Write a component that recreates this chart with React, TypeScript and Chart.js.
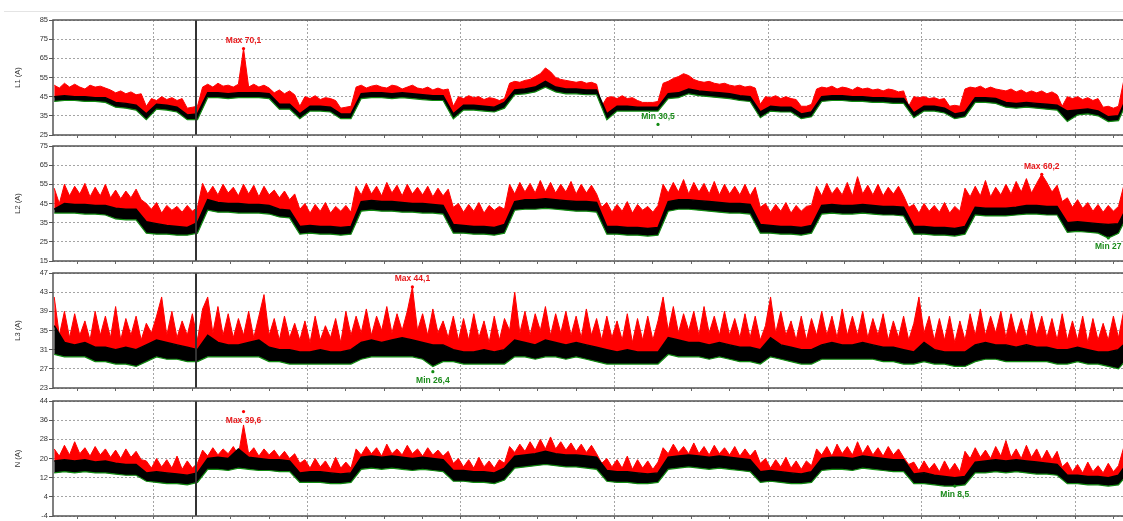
import React, { useEffect, useRef } from "react";
import { Chart, registerables } from "chart.js";

Chart.register(...registerables);

// ---------- time axis (hours) ----------
const SAMPLE_START_H = 8.4;
const MAX_STEP_H = 0.8;
const AVG_STEP_H = 1.6;
const X_MIN_H = 8.21;
const X_MAX_H = 177.38;
const CURSOR_H = 30.57;
const X_TICK_HOURS = [12, 18, 24, 30, 36, 42, 48, 54, 60, 66, 72, 78, 84, 90, 96, 102, 108, 114, 120, 126, 132, 138, 144, 150, 156, 162, 168, 174];
const DAY_LABELS = ["05.03", "06.03", "07.03", "08.03", "09.03", "10.03", "11.03"];

// ---------- L1 ----------
const L1_MAX = [
  51, 49.5, 52, 50, 51.5, 50, 49, 51, 50, 50.5,
  49.5, 48.5, 47, 48, 46.5, 47.5, 46, 46.5, 40, 44,
  43, 45, 43.5, 44.5, 43, 44, 39, 39.5, 40, 50,
  51.5, 50, 52, 50.5, 51, 50, 51.5, 70.1, 50, 51.5,
  50, 51, 49.5, 47, 48.5, 46.5, 48, 46, 40, 45,
  44, 45.5, 43.5, 44.5, 44, 43, 39, 39.5, 40, 50,
  51, 49.5, 50.5, 51, 50, 49.5, 51, 50.5, 49, 50,
  51, 49.5, 49, 50, 48.5, 49.5, 48.5, 49, 40, 45,
  44, 45.5, 44.5, 45, 43.5, 44.5, 44, 43, 44, 52,
  53, 52.5, 53.5, 54, 55.5, 57, 60, 58, 55, 54,
  53.5, 53, 52.5, 53, 52, 52.5, 51.5, 40, 44.5, 45,
  44, 45.5, 44, 44.5, 43, 42, 42, 42, 42.5, 52,
  53, 54.5, 55.5, 57, 56, 54, 53, 52.5, 53, 52,
  51.5, 52, 51, 50.5, 51, 50, 50.5, 49.5, 41, 45,
  44.5, 45.5, 44, 45, 44, 43.5, 40, 40, 41, 49,
  50, 49.5, 50.5, 49, 50, 49.5, 48.5, 50, 49, 49.5,
  48.5, 49, 48, 49, 48.5, 47.5, 48, 40, 45, 44.5,
  45, 44, 44.5, 43.5, 44, 40, 40.5, 40, 49, 50,
  49.5, 50.5, 49, 50, 49, 48.5, 48, 49, 47.5, 48.5,
  47, 48, 47, 48, 46.5, 47.5, 46, 40, 45, 44,
  45, 43.5, 44.5, 43, 44, 39.5, 40, 39, 40, 53,
];
const L1_AVG = [
  45, 45.5, 45, 45, 44.5, 44.5, 42, 41.5, 40.5, 36,
  41, 40.5, 39.5, 35.5, 36, 47, 47, 46.5, 47, 47,
  47, 46.5, 41, 41, 36, 40, 40, 39.5, 36, 36,
  46.5, 47, 47, 46.5, 47, 46.5, 46, 45.5, 45.5, 36,
  40.5, 40.5, 40, 39.5, 42, 48.5, 49, 50, 53, 50,
  49, 49, 48.5, 48.5, 36, 40, 40, 39.5, 39.5, 39.5,
  46.5, 47, 49, 48, 47.5, 47, 46.5, 45.5, 45, 37,
  40, 39.5, 39.5, 36, 37, 45, 45.5, 45.5, 45, 45,
  44.5, 44.5, 44, 44, 36.5, 40, 40, 39, 36, 37,
  44.5, 44.5, 44, 42, 41.5, 42, 41.5, 41, 40.5, 37.5,
  38, 38.5, 37.5, 34.5, 35, 47,
];
const L1_MIN = [
  42.5, 43, 43, 42.5, 42.5, 42, 39.5, 39, 38, 33,
  38.5, 38, 37, 33, 33, 44.5, 44.5, 44, 44.5, 44.5,
  44.5, 44, 38.5, 38.5, 33.5, 37.5, 37.5, 37, 33.5, 33.5,
  44, 44.5, 44.5, 44, 44.5, 44, 43.5, 43, 43, 33.5,
  38, 38, 37.5, 37, 39, 46, 46.5, 47.5, 50, 47.5,
  46.5, 46.5, 46, 46, 33, 37.5, 37.5, 37.5, 37.5, 37.5,
  44, 44.5, 46.5, 45.5, 45, 44.5, 44, 43, 42.5, 34,
  37.5, 37, 37, 33.5, 34.5, 42.5, 43, 43, 42.5, 42.5,
  42, 42, 41.5, 41.5, 34, 37.5, 37.5, 36.5, 33.5, 34.5,
  42, 42, 41.5, 39.5, 39, 39.5, 39, 38.5, 38, 32,
  35.5, 36, 35, 32, 32.5, 44.5,
];

// ---------- L2 ----------
const L2_MAX = [
  53, 45, 55, 49, 54, 50, 55.5, 48.5, 53.5, 49,
  55, 48, 52, 47.5, 51.5, 48, 52.5, 47, 45, 42,
  45.5, 40, 44, 41.5, 43.5, 40.5, 44, 41, 43, 55.5,
  50, 54, 49.5, 55, 50.5, 53.5, 49, 55, 50, 54.5,
  48.5, 54, 49.5, 52, 48, 51.5, 47, 50, 42, 45,
  40, 44.5, 41, 45.5, 40, 43.5, 41, 44, 40.5, 54,
  49.5, 55.5, 50, 54, 49, 56, 50.5, 54.5, 49, 55,
  50, 53.5, 49.5, 54, 48.5, 53, 49, 52.5, 43, 45,
  40.5, 44.5, 41, 45.5, 40, 44, 41.5, 43.5, 42, 55,
  50, 56, 51, 55.5, 50.5, 57, 51, 56, 50.5, 55,
  51, 56.5, 50, 55, 50.5, 54.5, 50, 43, 45.5, 40.5,
  44.5, 41, 46, 40, 44.5, 41.5, 43.5, 40.5, 44, 55,
  50.5, 56, 51, 57.5, 50, 56, 51, 55.5, 50, 56.5,
  49.5, 55, 50, 54, 49.5, 55, 49, 53.5, 43, 45,
  40.5, 44.5, 41, 45.5, 40, 44, 41, 43.5, 44, 54,
  49, 55.5, 50, 53.5, 49.5, 56, 49, 59, 50, 54.5,
  49.5, 55, 49, 53.5, 50, 54, 49, 43, 44.5, 40,
  45, 41, 44, 40.5, 45.5, 40, 43.5, 41, 53, 48.5,
  54, 49, 57, 48.5, 53.5, 49.5, 55, 50, 56.5, 51,
  58, 50.5, 55.5, 60.2, 56, 51, 54.5, 46, 48, 43,
  47, 42.5, 45.5, 41, 44.5, 40.5, 44, 41, 43.5, 54,
];
const L2_AVG = [
  42, 45, 44.5, 44.5, 44, 44, 42.5, 42, 42, 35.5,
  34.5, 33.5, 33, 32.5, 35, 47, 45.5, 45, 45, 44.5,
  44.5, 44, 42, 41.5, 33, 33.5, 33, 33, 32.5, 33,
  46, 46.5, 46, 46, 45.5, 45, 45, 44.5, 44, 34,
  33.5, 33, 33, 32.5, 34, 46, 47, 47, 47.5, 47,
  46.5, 46, 46, 45.5, 33, 33, 32.5, 32.5, 32, 32.5,
  46, 47, 47, 46.5, 46, 45.5, 45, 45, 44.5, 34,
  33.5, 33, 33, 32.5, 33.5, 44, 44.5, 44, 44, 44.5,
  44, 43.5, 43.5, 43, 33, 33, 32.5, 32.5, 32, 33,
  43, 42.5, 42.5, 42.5, 43, 44, 44, 43.5, 43.5, 35,
  35.5, 35, 34.5, 34, 34.5, 45,
];
const L2_MIN = [
  40, 40, 40, 39.5, 39.5, 39, 37, 36.5, 36.5, 29.5,
  29, 29, 28.5, 28.5, 29.5, 41.5, 40.5, 40.5, 40, 40,
  40, 39.5, 38, 37.5, 29, 29.5, 29, 29, 28.5, 29,
  41, 41.5, 41, 41, 40.5, 40.5, 40, 40, 39.5, 29.5,
  29.5, 29, 29, 28.5, 29.5, 41.5, 42, 42, 42.5, 42,
  41.5, 41, 41, 40.5, 29, 29, 28.5, 28.5, 28, 28.5,
  41, 42, 42, 41.5, 41, 40.5, 40, 40, 39.5, 29.5,
  29.5, 29, 29, 28.5, 29.5, 39.5, 40, 39.5, 39.5, 40,
  39.5, 39, 39, 38.5, 29, 29, 28.5, 28.5, 28, 29,
  39, 38.5, 38.5, 38.5, 39, 39.5, 39.5, 39, 39, 30,
  30.5, 30, 29.5, 27, 29.5, 40,
];

// ---------- L3 ----------
const L3_MAX = [
  42, 34, 39, 33.5, 38.5, 34, 37, 33, 39, 34,
  38, 33.5, 40, 33, 37.5, 34, 38, 33, 36.5, 34.5,
  38, 42, 34, 39, 33.5, 37, 34, 38.5, 33, 39.5,
  42, 34.5, 40, 34, 38.5, 33.5, 37.5, 34, 39, 33.5,
  38, 42.5, 34, 37.5, 33, 38, 33.5, 36.5, 33, 37,
  32.5, 38, 33, 36, 33.5, 37.5, 32.5, 39, 34, 38,
  34.5, 39.5, 34, 38, 35, 40, 34.5, 38.5, 35, 39,
  44.1, 35, 38.5, 34, 39.5, 34.5, 37, 33.5, 38, 33,
  37.5, 33, 38.5, 33.5, 37, 32.5, 38, 33, 37.5, 35,
  43, 34.5, 39, 34, 38.5, 35, 40, 34, 38.5, 34.5,
  39, 34, 38, 33.5, 39.5, 34, 37.5, 33, 38, 33.5,
  37, 33, 38.5, 32.5, 37.5, 33, 38, 33, 37, 42,
  35, 40, 34.5, 38.5, 35, 39, 34, 40, 34.5, 38,
  34, 39, 34, 37.5, 33.5, 38.5, 33.5, 38, 33, 36,
  42, 34.5, 39, 34, 37, 33, 38, 33, 37.5, 34,
  39, 34, 38, 33.5, 39.5, 34, 38, 34, 39, 33.5,
  37.5, 34, 38.5, 33, 37, 33.5, 38, 33, 36.5, 42,
  34.5, 38, 33, 37.5, 33, 38, 32.5, 37, 33, 38.5,
  34, 39.5, 34, 38, 34.5, 39, 33.5, 38.5, 34, 37.5,
  33.5, 39, 34, 38, 33.5, 37.5, 33, 38.5, 33, 37,
  33, 38, 32.5, 37.5, 33, 36.5, 33, 38, 33.5, 39,
];
const L3_AVG = [
  36, 32.5, 32, 32.5, 31.5, 31.5, 31, 31.5, 31, 32,
  33, 32.5, 32, 31.5, 31, 34, 32.5, 32, 32, 32.5,
  33, 31.5, 31, 31, 30.5, 30.5, 31, 30.5, 30.5, 31,
  32.5, 33, 32.5, 33, 33.5, 33, 32.5, 32, 32, 31,
  30.5, 30.5, 31, 30.5, 31, 33, 32.5, 32, 33, 32.5,
  32, 32.5, 32, 31.5, 31, 30.5, 31, 30.5, 30.5, 30.5,
  33.5, 33, 32.5, 32.5, 32, 32.5, 32, 31.5, 31.5, 31,
  33.5, 32, 31.5, 31, 31, 32, 32.5, 32, 32, 32.5,
  32, 31.5, 31.5, 31, 30.5, 32.5, 31, 30.5, 30.5, 30.5,
  32, 32.5, 32, 32, 31.5, 32, 31.5, 31.5, 31, 31,
  31.5, 31, 30.5, 30.5, 31, 33,
];
const L3_MIN = [
  30, 29.5, 29.5, 29.5, 28.5, 28.5, 28, 28, 27.5, 28.5,
  29.5, 29, 29, 28.5, 28.5, 29.5, 29.5, 29.5, 29.5, 29.5,
  29.5, 28.5, 28.5, 28, 28, 28, 28, 28, 28, 28,
  29, 29.5, 29.5, 29.5, 29.5, 29.5, 29, 27.5, 28.5, 28.5,
  28, 28, 28, 28, 28, 29.5, 29.5, 29, 29.5, 29.5,
  29, 29.5, 29, 28.5, 28, 28, 28, 28, 28, 28,
  30, 29.5, 29.5, 29.5, 29, 29.5, 29, 28.5, 28.5, 28,
  29.5, 29, 28.5, 28, 28, 29, 29, 29, 29, 29,
  29, 28.5, 28.5, 28, 28, 28.5, 28, 28, 27.5, 27.5,
  28.5, 29, 29, 28.5, 28.5, 28.5, 28.5, 28.5, 28, 28,
  28.5, 28, 28, 27.5, 27, 29.5,
];

// ---------- N ----------
const N_MAX = [
  24, 21, 25.5, 21.5, 27, 22, 24.5, 21, 25, 21.5,
  24, 20.5, 23.5, 20, 24, 20.5, 23, 19.5, 19, 16,
  20, 16.5, 19.5, 16, 21, 15.5, 19, 16, 18, 23.5,
  21, 24.5, 21.5, 24, 22, 25, 21.5, 34, 22, 24.5,
  21, 24, 21.5, 23.5, 20.5, 23, 20, 22, 18, 19.5,
  16, 20, 16.5, 19, 15.5, 20.5, 16, 18.5, 16, 24,
  21.5, 25, 22, 24.5, 21, 26, 22, 24, 21.5, 25.5,
  22, 24, 21, 24.5, 21.5, 23.5, 21, 23, 18, 20,
  16.5, 19.5, 16, 20.5, 16.5, 19, 16, 19.5, 18, 25,
  22.5, 26, 23, 27, 23.5, 28, 24, 29, 24, 27,
  23.5, 26.5, 23, 26, 22.5, 25.5, 22, 18, 20, 16.5,
  19.5, 16, 21, 15.5, 19.5, 16, 19, 15.5, 18.5, 24.5,
  22, 26, 22.5, 25, 22, 26.5, 22, 25, 21.5, 25.5,
  22, 24.5, 21.5, 25, 21, 24, 21, 23.5, 18, 20,
  16, 19.5, 16.5, 20.5, 16, 19, 15.5, 19, 17, 24,
  21.5, 25, 21, 26, 22, 25, 21.5, 27, 22, 25.5,
  21.5, 24.5, 21, 25, 21.5, 24, 20.5, 17.5, 18.5, 15,
  19, 15.5, 18, 14.5, 19, 15, 18, 14.5, 23, 20,
  24.5, 20.5, 23.5, 20, 25, 21, 27.5, 20.5, 24, 20,
  25.5, 20.5, 24, 19.5, 23.5, 19.5, 23, 16.5, 18.5, 14.5,
  17.5, 14, 18.5, 14.5, 17, 14, 18, 14.5, 17, 24.5,
];
const N_AVG = [
  19, 19.5, 19, 19.5, 18.5, 19, 18, 17.5, 17.5, 14,
  14.5, 14, 13.5, 13, 14, 20, 20.5, 20, 24, 20.5,
  20, 19.5, 19.5, 19, 14, 14.5, 14.5, 14, 13.5, 14,
  20.5, 21, 20.5, 21, 20.5, 20, 20.5, 20, 19.5, 15,
  15, 14.5, 14.5, 14, 16, 21, 21.5, 22, 23, 22,
  21.5, 21.5, 21, 20.5, 15, 14.5, 14.5, 14, 13.5, 14,
  20.5, 21, 21.5, 21, 20.5, 21, 20.5, 20, 19.5, 14.5,
  15, 14.5, 14, 13.5, 14.5, 20, 20.5, 20.5, 20, 21,
  20.5, 20, 19.5, 19.5, 13.5, 14, 13, 12.5, 12, 12.5,
  18.5, 19, 19.5, 19, 19.5, 19, 18.5, 18, 17.5, 13,
  13, 12.5, 12.5, 12, 13, 19,
];
const N_MIN = [
  14, 14.5, 14, 14.5, 14, 14, 13.5, 13, 13, 10.5,
  10, 9.5, 9.5, 9, 10, 15.5, 15.5, 15, 16, 15.5,
  15, 15, 14.5, 14.5, 10, 10, 10, 9.5, 9.5, 10,
  15.5, 16, 15.5, 16, 15.5, 15, 15.5, 15, 14.5, 10.5,
  10.5, 10, 10, 9.5, 11, 16, 16.5, 17, 17.5, 17,
  16.5, 16.5, 16, 15.5, 10.5, 10, 10, 9.5, 9.5, 10,
  15.5, 16, 16.5, 16, 15.5, 16, 15.5, 15, 14.5, 10,
  10.5, 10, 9.5, 9.5, 10, 15, 15.5, 15.5, 15, 16,
  15.5, 15, 14.5, 14.5, 9.5, 9.5, 9, 8.5, 8.5, 9,
  14, 14, 14.5, 14, 14.5, 14, 13.5, 13.5, 13, 9.5,
  9.5, 9, 9, 8.5, 9, 14,
];

// ---------- extreme-value labels ----------
const RED = "#ff0000";
const RED_TXT = "#e8191b";
const GREEN = "#128a12";
const GREEN_TXT = "#1c8c1c";
const L1_MARKS = [
  { text: "Max 70,1", series: "max", index: 37, value: 70.1 },
  { text: "Min 30,5", series: "min", index: 59, value: 30.5 },
];
const L2_MARKS = [
  { text: "Max 60,2", series: "max", index: 193, value: 60.2 },
  { text: "Min 27", series: "min", index: 103, value: 27 },
];
const L3_MARKS = [
  { text: "Max 44,1", series: "max", index: 70, value: 44.1 },
  { text: "Min 26,4", series: "min", index: 37, value: 26.4 },
];
const N_MARKS = [
  { text: "Max 39,6", series: "max", index: 37, value: 39.6 },
  { text: "Min 8,5", series: "min", index: 88, value: 8.5 },
];

const L1_TICKS = [25, 35, 45, 55, 65, 75, 85];
const L2_TICKS = [15, 25, 35, 45, 55, 65, 75];
const L3_TICKS = [23, 27, 31, 35, 39, 43, 47];
const N_TICKS = [-4, 4, 12, 20, 28, 36, 44];

// ---------- layout ----------
const CANVAS_W = 1135;
const PAD_TOP = 6;
const PLOT_H = 115;
const Y_AXIS_W = 53;
const FONT = "'Liberation Sans', Arial, sans-serif";

const PANELS = [
  { title: "L1 (A)", ticks: L1_TICKS, max: L1_MAX, avg: L1_AVG, min: L1_MIN, marks: L1_MARKS, labelSide: ["above", "above"], top: 20, showX: false },
  { title: "L2 (A)", ticks: L2_TICKS, max: L2_MAX, avg: L2_AVG, min: L2_MIN, marks: L2_MARKS, labelSide: ["above", "below"], top: 146, showX: false },
  { title: "L3 (A)", ticks: L3_TICKS, max: L3_MAX, avg: L3_AVG, min: L3_MIN, marks: L3_MARKS, labelSide: ["above", "below"], top: 273, showX: false },
  { title: "N (A)", ticks: N_TICKS, max: N_MAX, avg: N_AVG, min: N_MIN, marks: N_MARKS, labelSide: ["below", "below"], top: 401, showX: true },
];

function toPoints(values: number[], step: number) {
  return values.map((v, k) => ({ x: SAMPLE_START_H + step * k, y: v }));
}

function buildChart(canvas: HTMLCanvasElement, p: any) {
  const overlay = {
    id: "overlay",
    afterDatasetsDraw(chart: any) {
      const { ctx, chartArea: a, scales } = chart;
      ctx.save();
      // cursor line
      const cx = scales.x.getPixelForValue(CURSOR_H);
      ctx.strokeStyle = "#333";
      ctx.lineWidth = 2;
      ctx.beginPath();
      ctx.moveTo(cx, a.top);
      ctx.lineTo(cx, a.bottom);
      ctx.stroke();
      // frame
      ctx.strokeStyle = "#555";
      ctx.lineWidth = 1.5;
      ctx.strokeRect(a.left, a.top, a.right - a.left, a.bottom - a.top);
      // extreme marks
      p.marks.forEach((m: any, k: number) => {
        const t = SAMPLE_START_H + (m.series === "max" ? MAX_STEP_H : AVG_STEP_H) * m.index;
        const px = scales.x.getPixelForValue(t);
        const py = scales.y.getPixelForValue(m.value);
        const isMax = m.series === "max";
        ctx.fillStyle = isMax ? RED : GREEN;
        ctx.beginPath();
        ctx.arc(px, py, 1.6, 0, Math.PI * 2);
        ctx.fill();
        ctx.fillStyle = isMax ? RED_TXT : GREEN_TXT;
        ctx.font = `bold 8.5px ${FONT}`;
        ctx.textAlign = "center";
        ctx.textBaseline = "middle";
        ctx.fillText(m.text, px, py + (p.labelSide[k] === "above" ? -8 : 9));
      });
      ctx.restore();
      // y title
      ctx.save();
      ctx.translate(18, (a.top + a.bottom) / 2);
      ctx.rotate(-Math.PI / 2);
      ctx.fillStyle = "#333";
      ctx.font = `7.5px ${FONT}`;
      ctx.textAlign = "center";
      ctx.textBaseline = "middle";
      ctx.fillText(p.title, 0, 0);
      ctx.restore();
    },
  };

  return new Chart(canvas, {
    type: "line",
    data: {
      datasets: [
        { label: "min", data: toPoints(p.min, AVG_STEP_H), borderColor: GREEN, borderWidth: 1.2, pointRadius: 0, fill: false, tension: 0 },
        { label: "avg", data: toPoints(p.avg, AVG_STEP_H), borderColor: "#000", backgroundColor: "#000", borderWidth: 1.5, pointRadius: 0, fill: "-1", tension: 0 },
        { label: "max", data: toPoints(p.max, MAX_STEP_H), borderColor: RED, backgroundColor: RED, borderWidth: 1, pointRadius: 0, fill: "-1", tension: 0 },
      ],
    },
    options: {
      animation: false,
      responsive: false,
      maintainAspectRatio: false,
      events: [],
      layout: { padding: { top: PAD_TOP, left: 0, right: 0, bottom: 0 } },
      plugins: { legend: { display: false }, tooltip: { enabled: false } },
      scales: {
        x: {
          type: "linear",
          min: X_MIN_H,
          max: X_MAX_H,
          afterBuildTicks: (s: any) => {
            s.ticks = X_TICK_HOURS.map((v) => ({ value: v }));
          },
          afterFit: (s: any) => {
            s.height = p.showX ? 22 : 8;
          },
          grid: {
            color: (c: any) => (c.tick && c.tick.value % 24 === 0 ? "#a4a4a4" : "rgba(0,0,0,0)"),
            tickColor: "#666",
            tickLength: 3,
            lineWidth: 1,
          },
          border: { display: false, dash: [2, 2] },
          ticks: {
            display: p.showX,
            autoSkip: false,
            maxRotation: 0,
            padding: 0,
            color: "#555",
            font: { size: 8, family: FONT },
            callback: (v: any) => (v % 24 === 0 ? DAY_LABELS[v / 24 - 1] : ""),
          },
        },
        y: {
          min: p.ticks[0],
          max: p.ticks[p.ticks.length - 1],
          afterBuildTicks: (s: any) => {
            s.ticks = p.ticks.map((v: number) => ({ value: v }));
          },
          afterFit: (s: any) => {
            s.width = Y_AXIS_W;
          },
          grid: { color: "#a4a4a4", tickColor: "#555", tickLength: 4, lineWidth: 1 },
          border: { display: false, dash: [2, 2] },
          ticks: { padding: 1, color: "#333", font: { size: 7.5, family: FONT } },
        },
      },
    },
    plugins: [overlay],
  } as any);
}

function Panel({ p }: { p: any }) {
  const ref = useRef<HTMLCanvasElement>(null);
  const h = PAD_TOP + PLOT_H + (p.showX ? 22 : 8);
  useEffect(() => {
    const chart = buildChart(ref.current as HTMLCanvasElement, p);
    return () => chart.destroy();
  }, []);
  return (
    <canvas
      ref={ref}
      width={CANVAS_W}
      height={h}
      style={{ position: "absolute", left: 0, top: p.top - PAD_TOP, width: CANVAS_W, height: h }}
    />
  );
}

export default function App() {
  return (
    <div style={{ position: "fixed", left: 0, top: 0, width: 1123, height: 521, overflow: "hidden", background: "#fff" }}>
      <div style={{ position: "absolute", left: 4, right: 0, top: 11, height: 1, background: "#e4e4e4" }} />
      {PANELS.map((p) => (
        <Panel key={p.title} p={p} />
      ))}
    </div>
  );
}
